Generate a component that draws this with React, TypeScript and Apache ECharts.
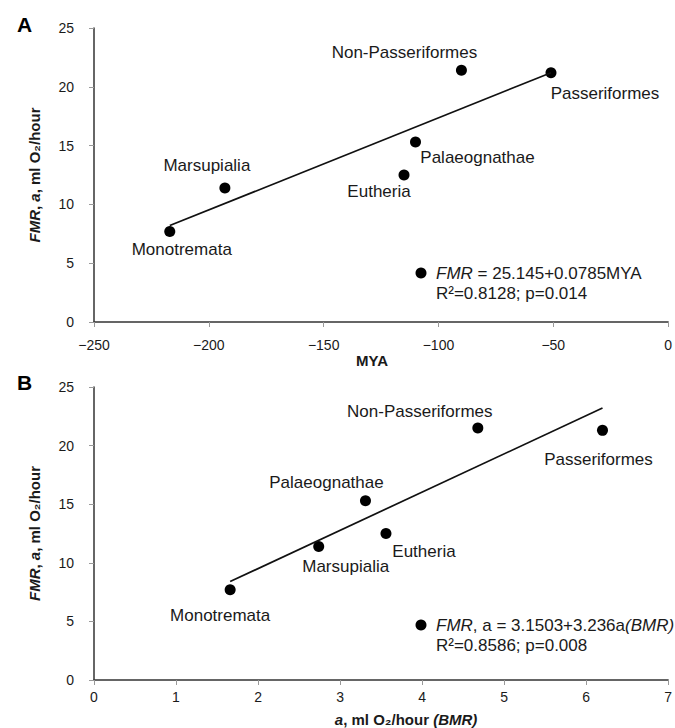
import React, { useEffect, useRef } from "react";
import * as echarts from "echarts";

// Panel A: FMR vs MYA
const groups = ["Monotremata", "Marsupialia", "Non-Passeriformes", "Passeriformes", "Palaeognathae", "Eutheria"];
const myaA = [-217, -193, -90, -51, -110, -115];
const fmrA = [7.7, 11.4, 21.4, 21.2, 15.3, 12.5];
const fitA = [[-217, 8.2], [-51, 21.2]];

// Panel B: FMR vs BMR
const bmrB = [1.66, 2.74, 4.68, 6.2, 3.31, 3.56];
const fmrB = [7.7, 11.4, 21.5, 21.3, 15.3, 12.5];
const fitB = [[1.66, 8.4], [6.2, 23.2]];

// Label offsets (px, relative to point)
const offA = [[12, 18], [-18, -22], [-57, -18], [54, 21], [62, 15], [-25, 16]];
const offB = [[-10, 26], [27, 20], [-58, -17], [-4, 29], [-39, -18], [38, 18]];

const LABEL_FONT = "Liberation Sans, Arial, sans-serif";

function pts(xs: number[], ys: number[], offs: number[][]) {
  return xs.map((x, i) => ({
    value: [x, ys[i]],
    label: {
      show: true,
      position: "inside",
      offset: offs[i],
      formatter: groups[i],
      color: "#1a1a1a",
      opacity: 1,
      fontSize: 17,
      fontFamily: LABEL_FONT,
    },
  }));
}

const axisCommon = {
  axisLine: { show: true, onZero: false, lineStyle: { color: "#333", width: 1.5 } },
  axisTick: { show: true, length: 5, lineStyle: { color: "#999", width: 1 } },
  splitLine: { show: false },
  axisLabel: { color: "#1a1a1a", fontSize: 14, fontFamily: LABEL_FONT },
};

const yName = "{bi|FMR}{b|, }{bi|a}{b|, ml O₂/hour}";
const nameRich = {
  b: { fontWeight: "bold", fontSize: 15, fontFamily: LABEL_FONT, color: "#1a1a1a" },
  bi: { fontWeight: "bold", fontStyle: "italic", fontSize: 15, fontFamily: LABEL_FONT, color: "#1a1a1a" },
};

export default function App() {
  const ref = useRef<HTMLDivElement>(null);
  useEffect(() => {
    if (!ref.current) return;
    const chart = echarts.init(ref.current, null, { renderer: "svg" });
    const legendText = (l1: string, l2: string, y: number) => [
      { type: "circle", shape: { cx: 421, cy: y, r: 5.5 }, style: { fill: "#000" } },
      {
        type: "text",
        x: 436,
        y: y,
        style: {
          text: l1,
          rich: {
            i: { fontStyle: "italic", fontSize: 17, fontFamily: LABEL_FONT, fill: "#1a1a1a" },
            n: { fontSize: 17, fontFamily: LABEL_FONT, fill: "#1a1a1a" },
          },
          verticalAlign: "middle",
          align: "left",
        },
      },
      {
        type: "text",
        x: 436,
        y: y + 20,
        style: {
          text: l2,
          fontSize: 17,
          fontFamily: LABEL_FONT,
          fill: "#1a1a1a",
          verticalAlign: "middle",
          align: "left",
        },
      },
    ];
    chart.setOption({
      animation: false,
      backgroundColor: "#fff",
      grid: [
        { left: 94, right: 1, top: 28, height: 294 },
        { left: 94, right: 3, top: 387, height: 293 },
      ],
      xAxis: [
        {
          ...axisCommon,
          gridIndex: 0,
          type: "value",
          min: -250,
          max: 0,
          interval: 50,
          name: "MYA",
          nameLocation: "middle",
          nameGap: 31,
          nameTextStyle: { fontWeight: "bold", fontSize: 15, fontFamily: LABEL_FONT, color: "#1a1a1a", padding: [0, 18, 0, 0] },
          axisLabel: { ...axisCommon.axisLabel, margin: 16, formatter: (v: number) => String(v).replace("-", "−") },
        },
        {
          ...axisCommon,
          gridIndex: 1,
          type: "value",
          min: 0,
          max: 7,
          interval: 1,
          name: "{bi|a}{b|, ml O₂/hour }{bi|(BMR)}",
          nameLocation: "middle",
          nameGap: 32,
          nameTextStyle: { rich: nameRich, padding: [0, 0, 0, 50] },
          axisLabel: { ...axisCommon.axisLabel, margin: 10 },
        },
      ],
      yAxis: [
        {
          ...axisCommon,
          gridIndex: 0,
          type: "value",
          min: 0,
          max: 25,
          interval: 5,
          name: yName,
          nameLocation: "middle",
          nameGap: 52,
          nameTextStyle: { rich: nameRich },
          axisLabel: { ...axisCommon.axisLabel, margin: 20 },
        },
        {
          ...axisCommon,
          gridIndex: 1,
          type: "value",
          min: 0,
          max: 25,
          interval: 5,
          name: yName,
          nameLocation: "middle",
          nameGap: 52,
          nameTextStyle: { rich: nameRich },
          axisLabel: { ...axisCommon.axisLabel, margin: 20 },
        },
      ],
      series: [
        {
          type: "line",
          xAxisIndex: 0,
          yAxisIndex: 0,
          data: fitA,
          symbol: "none",
          lineStyle: { color: "#111", width: 1.7 },
          silent: true,
        },
        {
          type: "scatter",
          xAxisIndex: 0,
          yAxisIndex: 0,
          data: pts(myaA, fmrA, offA),
          symbolSize: 11,
          itemStyle: { color: "#000", opacity: 1 },
        },
        {
          type: "line",
          xAxisIndex: 1,
          yAxisIndex: 1,
          data: fitB,
          symbol: "none",
          lineStyle: { color: "#111", width: 1.7 },
          silent: true,
        },
        {
          type: "scatter",
          xAxisIndex: 1,
          yAxisIndex: 1,
          data: pts(bmrB, fmrB, offB),
          symbolSize: 11,
          itemStyle: { color: "#000", opacity: 1 },
        },
      ],
      graphic: [
        { type: "text", x: 17, y: 14, style: { text: "A", fontSize: 21, fontWeight: "bold", fontFamily: LABEL_FONT, fill: "#000" } },
        { type: "text", x: 17, y: 372, style: { text: "B", fontSize: 21, fontWeight: "bold", fontFamily: LABEL_FONT, fill: "#000" } },
        ...legendText("{i|FMR}{n| = 25.145+0.0785MYA}", "R²=0.8128; p=0.014", 273),
        ...legendText("{i|FMR}{n|, a = 3.1503+3.236a}{i|(BMR)}", "R²=0.8586; p=0.008", 625),
      ],
    });
    return () => chart.dispose();
  }, []);
  return (
    <div
      ref={ref}
      style={{ position: "fixed", left: 0, top: 0, width: 675, height: 728 }}
    />
  );
}
